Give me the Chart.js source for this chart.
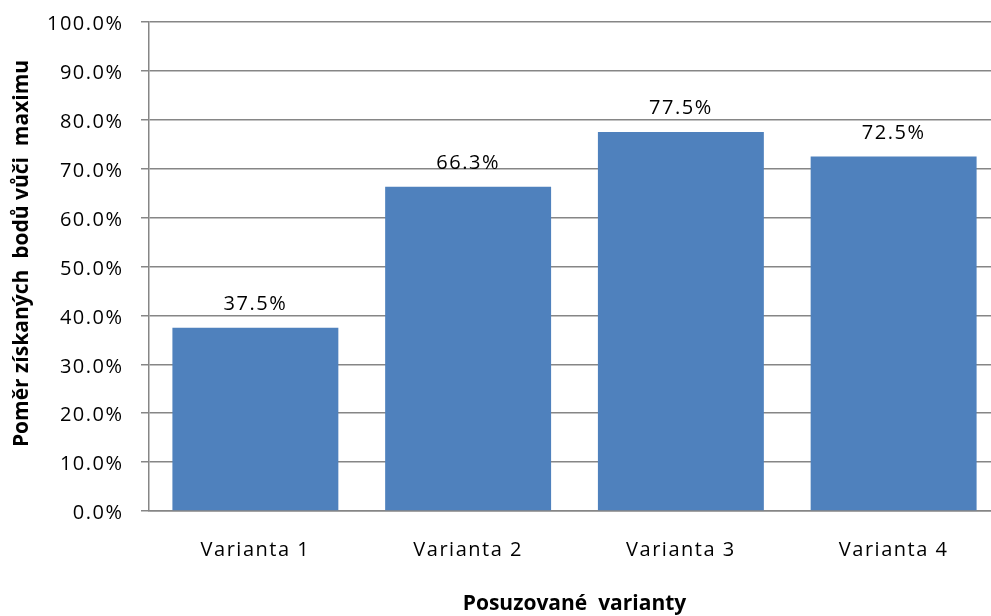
<!DOCTYPE html>
<html><head><meta charset="utf-8">
<script src="https://cdn.jsdelivr.net/npm/chart.js@4"></script>
<style>html,body{margin:0;padding:0;background:#fff;overflow:hidden}#wrap{width:1000px;height:616px}</style>
</head><body><div id="wrap"><canvas id="c"></canvas></div>
<script>
const categories = ["Varianta 1", "Varianta 2", "Varianta 3", "Varianta 4"];
const values = [37.5, 66.3, 77.5, 72.5];
const yTitle = "Poměr získaných  bodů vůči  maximu";
const xTitle = "Posuzované  varianty";

const FONT = "'Open Sans', sans-serif";
const SPACING = '1.5px';

const stylePlugin = {
  id: 'styler',
  beforeDraw(chart) {
    chart.ctx.letterSpacing = SPACING;
  },
  afterDatasetsDraw(chart) {
    const ctx = chart.ctx;
    const meta = chart.getDatasetMeta(0);
    ctx.save();
    ctx.letterSpacing = SPACING;
    ctx.font = "20px " + FONT;
    ctx.fillStyle = "#000";
    ctx.textAlign = "center";
    ctx.textBaseline = "middle";
    meta.data.forEach((bar, i) => {
      ctx.fillText(values[i].toFixed(1) + "%", bar.x, bar.y - 23.5);
    });
    ctx.restore();
  },
  afterDraw(chart) {
    const ctx = chart.ctx;
    ctx.save();
    ctx.letterSpacing = '0px';
    ctx.font = "bold 21px " + FONT;
    ctx.fillStyle = "#000";
    ctx.textAlign = "center";
    ctx.textBaseline = "alphabetic";
    ctx.fillText(xTitle, (chart.chartArea.left + chart.chartArea.right) / 2, 610);
    ctx.translate(28, 253.5);
    ctx.rotate(-Math.PI / 2);
    ctx.fillText(yTitle, 0, 0);
    ctx.restore();
    ctx.letterSpacing = '0px';
  }
};

new Chart(document.getElementById('c'), {
  type: 'bar',
  data: { labels: categories, datasets: [{ data: values, backgroundColor: '#4F81BD', barPercentage: 0.78, categoryPercentage: 1 }] },
  options: {
    responsive: true, maintainAspectRatio: false, animation: false,
    layout: { padding: { top: 22, right: 0, left: 0, bottom: 0 } },
    plugins: { legend: { display: false }, tooltip: { enabled: false } },
    scales: {
      x: {
        grid: { display: false, drawTicks: false },
        border: { color: '#868686', width: 1.5 },
        ticks: { color: '#000', font: { family: FONT, size: 20 }, padding: 27 },
        afterFit(s) { s.height = 105; }
      },
      y: {
        min: 0, max: 100,
        ticks: { stepSize: 10, color: '#000', font: { family: FONT, size: 20, lineHeight: 0.5 }, padding: 17.5, labelOffset: 2.5, callback: v => v.toFixed(1) + '%' },
        grid: { color: '#868686', lineWidth: 1.5, tickLength: 8 },
        border: { color: '#868686', width: 1.5 },
        afterFit(s) { s.width = 149; s.paddingTop = 0; s.paddingBottom = 0; }
      }
    }
  },
  plugins: [stylePlugin]
});
</script></body></html>
